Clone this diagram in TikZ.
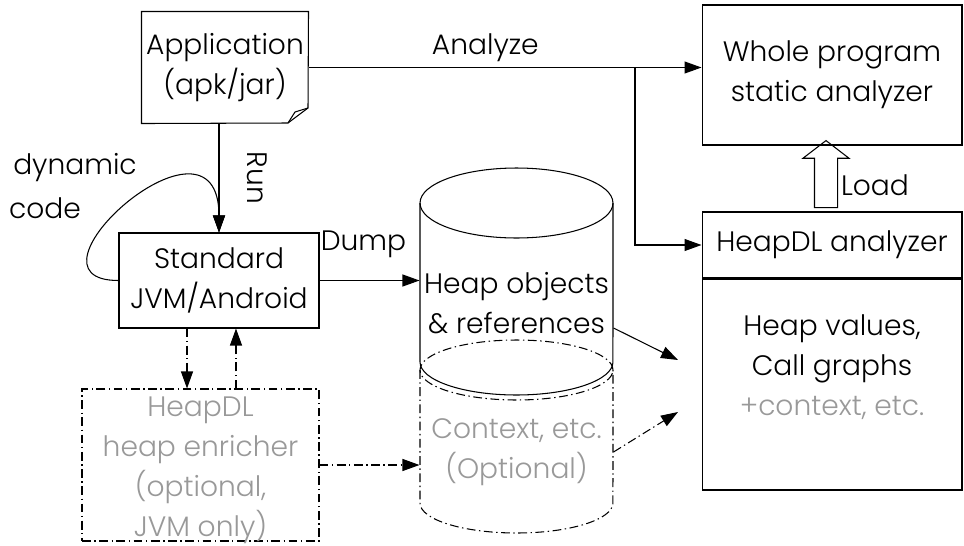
\documentclass[tikz,border=0pt]{standalone}
\usepackage{fontspec}
\setmainfont{Poppins Light}
\usetikzlibrary{arrows.meta}
\usetikzlibrary{shapes.arrows}

\begin{document}
\begin{tikzpicture}[x=0.02cm,y=-0.02cm,line width=0.6pt,
	every node/.style={font=\fontsize{16}{22.7}\selectfont,align=center,inner sep=0pt},
	box/.style={draw},
	dd/.style={dash pattern=on 5pt off 2pt on 0.8pt off 2pt},
	faint/.style={text=black!40},
	>={Triangle[length=0.34cm,width=0.24cm]}]
\useasboundingbox (0,0) rectangle (964,545);

\node (App) [minimum width=3.32cm,minimum height=2.22cm] at (225,67.5) {Application\\(apk/jar)};
\draw (App.north west) -- (App.north east) -- (308,108) -- (288,123) -- (App.south west) -- cycle;
\draw (288,123) -- (295,112) -- (308,108);

\node (WPA) [box,minimum width=5.2cm,minimum height=2.8cm] at (832,75) {Whole program\\static analyzer};
\node (HDL) [box,minimum width=5.2cm,minimum height=1.32cm] at (832,245) {HeapDL analyzer};
\node (Res) [box,minimum width=5.2cm,minimum height=4.22cm,anchor=north] at (HDL.south) {};
\node (ResT) at ([yshift=0.35cm]Res.center) {Heap values,\\Call graphs\\\textcolor{black!40}{+context, etc.}};

\node (JVM) [box,minimum width=4cm,minimum height=1.9cm] at (219,280.5) {Standard\\JVM/Android};
\node (Enr) [box,dd,minimum width=4.74cm,minimum height=3.04cm] at (200.5,465) {};
\node (EnrT) [faint] at (200.5,470) {HeapDL\\heap enricher\\(optional,\\JVM only)};

% heap dump, with the optional part below it
\draw (516.5,203) ellipse [x radius=1.93cm,y radius=0.7cm];
\draw (420,203) -- (420,362) arc [start angle=180,end angle=360,x radius=1.93cm,y radius=0.66cm] -- (613,203);
\draw[dd] (516.5,370) ellipse [x radius=1.93cm,y radius=0.6cm];
\draw[dd] (420,370) -- (420,503) arc [start angle=180,end angle=360,x radius=1.93cm,y radius=0.6cm] -- (613,370);
\node (Heap) [minimum width=3.86cm] at (516.5,303) {Heap objects\\\& references};
\node (Ctx) [faint,minimum width=3.86cm] at (516.5,452) {Context, etc.\\(Optional)};

\coordinate (Br) at (635,67.5);
\coordinate (H1) at (678,360);
\coordinate (H2) at (678,412);

\draw[->] (App.east) -- node[pos=0.45,yshift=0.4cm] (LAn) {Analyze} (App.east -| WPA.west);
\draw[->] (Br) |- (HDL.west);
\node (Ld) [single arrow,draw,rotate=90,inner sep=0.22cm,minimum height=1.34cm,minimum width=0.9cm,
	single arrow head extend=0.23cm,single arrow tip angle=105] at (826,178.5) {};
\node (LLd) at (875,185) {Load};

\draw[->] (JVM.north |- App.south) -- node[xshift=0.76cm,rotate=-90] (LRn) {Run} (JVM.north);
\draw[->] (JVM.west) .. controls +(-110,0) and +(0,-140) .. (JVM.north);
\node (LDy) at (75,168) {dynamic};
\node (LCo) at (45,208) {code};

\draw[->] (JVM.east) -- node[pos=0.44,yshift=0.72cm] (LDp) {Dump} (JVM.east -| Heap.west);
\draw[->] ([yshift=-0.5cm]Heap.east) -- (H1);
\draw[dd,->] (Ctx.east) -- (H2);
\draw[dd,->] (Enr.east) -- (Enr.east -| Ctx.west);
\foreach \dx/\a/\b in {-0.64cm/JVM.south/Enr.north, 0.34cm/Enr.north/JVM.south}
	\draw[dd,->] ([xshift=\dx]JVM.south |- \a) -- ([xshift=\dx]JVM.south |- \b);
\end{tikzpicture}
\end{document}
